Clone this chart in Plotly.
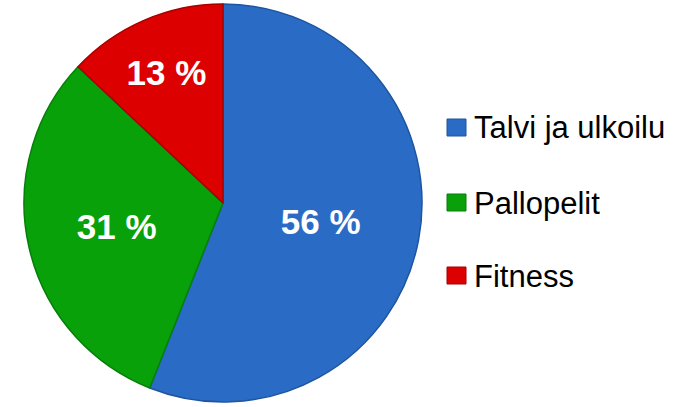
import plotly.graph_objects as go

categories = ["Talvi ja ulkoilu", "Pallopelit", "Fitness"]
values = [56, 31, 13]
colors = ["#2a6cc5", "#08a10a", "#dc0000"]
edge_colors = ["#1e559f", "#067f08", "#a80000"]

fig = go.Figure()
fig.add_trace(go.Pie(
    labels=categories,
    values=values,
    sort=False,
    direction="clockwise",
    rotation=0,
    marker=dict(colors=colors, line=dict(color=edge_colors, width=1.5)),
    texttemplate="%{value} %",
    textposition="inside",
    insidetextorientation="horizontal",
    textfont=dict(family="Liberation Sans, Arial", size=35, color="white", weight="bold"),
    domain=dict(x=[22/683, 424/683], y=[5/407, 403/407]),
    showlegend=False,
    hoverinfo="label+value",
))

# Manual legend to reproduce the wide vertical spacing
leg_y = [128, 203, 276]
for cat, col, edge, yy in zip(categories, colors, edge_colors, leg_y):
    fig.add_shape(type="rect", xref="paper", yref="paper",
                  x0=447/683, x1=466/683, y0=1-(yy+8)/407, y1=1-(yy-9)/407,
                  fillcolor=col, line=dict(color=edge, width=1))
    fig.add_annotation(text=cat, xref="paper", yref="paper",
                       x=472/683, y=1-yy/407, xanchor="left", yanchor="middle",
                       showarrow=False,
                       font=dict(family="Liberation Sans, Arial", size=31, color="black"))

fig.update_layout(
    width=683, height=407,
    margin=dict(l=0, r=0, t=0, b=0),
    paper_bgcolor="white",
    plot_bgcolor="white",
)

fig.write_html("out.html", config={"displayModeBar": False},
               post_script="document.body.style.margin='0px';")
